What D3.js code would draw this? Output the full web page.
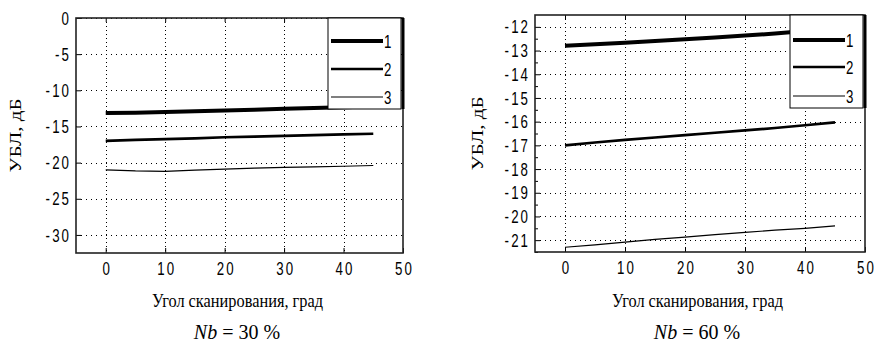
<!DOCTYPE html>
<html>
<head>
<meta charset="utf-8">
<script src="https://cdn.jsdelivr.net/npm/d3@7"></script>
<style>
  body { margin: 0; background: #fff; }
  svg { display: block; }
</style>
</head>
<body>
<div class="chart"></div>
<script>
// scan angle, deg
const angles = [0, 5, 10, 15, 20, 25, 30, 35, 40, 45];

// Nb = 30 %
const left1 = [-13.15, -13.1, -13.0, -12.9, -12.8, -12.7, -12.55, -12.45, -12.35, -12.25];
const left2 = [-17.0, -16.85, -16.75, -16.65, -16.5, -16.4, -16.3, -16.2, -16.1, -16.0];
const left3 = [-21.0, -21.15, -21.2, -21.05, -20.9, -20.75, -20.65, -20.6, -20.5, -20.4];

// Nb = 60 %
const right1 = [-12.8, -12.73, -12.67, -12.6, -12.52, -12.45, -12.37, -12.28, -12.18, -12.1];
const right2 = [-17.0, -16.88, -16.77, -16.67, -16.57, -16.47, -16.37, -16.27, -16.15, -16.03];
const right3 = [-21.3, -21.2, -21.08, -20.97, -20.87, -20.77, -20.67, -20.58, -20.5, -20.4];

const xTicks = [0, 10, 20, 30, 40, 50];
const leftYTicks = [0, -5, -10, -15, -20, -25, -30];
const rightYTicks = [-12, -13, -14, -15, -16, -17, -18, -19, -20, -21];
const legendLabels = ["1", "2", "3"];
const lineWidths = [4, 2.6, 1.2];

const svg = d3.select(".chart")
        .append("svg")
        .attr("width", 874)
        .attr("height", 347);

const tickFont = "'Liberation Sans', Arial, sans-serif";
const serif = "'Liberation Serif', 'DejaVu Serif', serif";
const squeeze = "scale(0.7,1)";

function drawPanel(p) {
    const x = d3.scaleLinear().domain([-5, 50]).range([p.left, p.right]);
    const y = d3.scaleLinear().domain(p.yDomain).range([p.top, p.bottom]);
    const g = svg.append("g");

    // dotted grid
    g.selectAll(".vgrid")
            .data(xTicks.filter(d => d < 50)).enter()
            .append("line")
            .attr("x1", d => Math.round(x(d)) + 0.5).attr("x2", d => Math.round(x(d)) + 0.5)
            .attr("y1", p.top).attr("y2", p.bottom)
            .attr("stroke", "#000").attr("stroke-width", 1)
            .attr("stroke-dasharray", "1,3");
    g.selectAll(".hgrid")
            .data(p.yTicks).enter()
            .append("line")
            .attr("x1", p.left).attr("x2", p.right)
            .attr("y1", d => Math.round(y(d)) + 0.5).attr("y2", d => Math.round(y(d)) + 0.5)
            .attr("stroke", "#000").attr("stroke-width", 1)
            .attr("stroke-dasharray", "1,4");

    // axes with inward ticks
    const xAxis = g.append("g")
            .attr("transform", `translate(0,${p.bottom})`)
            .call(d3.axisBottom(x).tickValues(xTicks).tickFormat(d => String(d))
                    .tickSizeInner(-5).tickSizeOuter(0).tickPadding(9));
    g.append("g")
            .attr("transform", `translate(0,${p.top})`)
            .call(d3.axisTop(x).tickValues(xTicks).tickSizeInner(-4).tickSizeOuter(0).tickFormat(""));
    const yAxis = g.append("g")
            .attr("transform", `translate(${p.left},0)`)
            .call(d3.axisLeft(y).tickValues(p.yTicks).tickFormat(d => String(d))
                    .tickSizeInner(-5).tickSizeOuter(0).tickPadding(10));
    if (p.minor) {
        g.append("g")
                .attr("transform", `translate(${p.left},0)`)
                .call(d3.axisLeft(y).tickValues(p.minor).tickSizeInner(-3).tickSizeOuter(0).tickFormat(""));
    }
    g.selectAll(".domain").remove();
    g.selectAll(".tick line").attr("stroke", "#000");
    [xAxis, yAxis].forEach(a => a.selectAll("text")
            .attr("font-family", tickFont)
            .attr("font-size", 19)
            .attr("letter-spacing", 3)
            .attr("transform", squeeze)
            .attr("fill", "#000"));
    // letter-spacing adds trailing space; nudge centred/right-aligned labels back
    xAxis.selectAll("text").attr("dx", 1.5);
    yAxis.selectAll("text").attr("dx", 3);

    // series
    const line = d3.line().x((d, i) => x(angles[i])).y(d => y(d));
    g.selectAll(".series")
            .data(p.series).enter()
            .append("path")
            .attr("d", d => line(d))
            .attr("fill", "none")
            .attr("stroke", "#000")
            .attr("stroke-width", (_, i) => lineWidths[i]);

    // frame
    g.append("rect")
            .attr("x", p.left).attr("y", p.top)
            .attr("width", p.right - p.left).attr("height", p.bottom - p.top)
            .attr("fill", "none").attr("stroke", "#222").attr("stroke-width", 1.6);

    // legend
    const lg = g.append("g");
    lg.append("rect")
            .attr("x", p.legendLeft).attr("y", p.top)
            .attr("width", p.right - 2 - p.legendLeft).attr("height", p.legendBottom - p.top)
            .attr("fill", "#fff").attr("stroke", "#000").attr("stroke-width", 1);
    lg.append("line")
            .attr("x1", p.right).attr("x2", p.right)
            .attr("y1", p.top).attr("y2", p.legendBottom)
            .attr("stroke", "#000").attr("stroke-width", 3);
    lg.selectAll(".item")
            .data(legendLabels).enter()
            .append("line")
            .attr("x1", p.legendLeft + 3).attr("x2", p.legendLeft + 55)
            .attr("y1", (_, i) => p.legendRows[i]).attr("y2", (_, i) => p.legendRows[i])
            .attr("stroke", "#000")
            .attr("stroke-width", (_, i) => lineWidths[i]);
    lg.selectAll(".itemText")
            .data(legendLabels).enter()
            .append("text")
            .attr("transform", (_, i) => `translate(${p.legendLeft + 56},${p.legendRows[i] + 7}) ${squeeze}`)
            .attr("font-family", tickFont)
            .attr("font-size", 19)
            .text(d => d);

    // labels
    g.append("text")
            .attr("transform", `translate(${p.yLabelX},${(p.top + p.bottom) / 2}) rotate(-90)`)
            .attr("x", -37)
            .attr("dy", "0.35em")
            .attr("font-family", serif)
            .attr("font-size", 17)
            .attr("textLength", 74)
            .attr("lengthAdjust", "spacingAndGlyphs")
            .text("УБЛ,  дБ");
    g.append("text")
            .attr("x", p.centerX - 85).attr("y", 307)
            .attr("font-family", serif)
            .attr("font-size", 18)
            .attr("textLength", 171)
            .attr("lengthAdjust", "spacingAndGlyphs")
            .text("Угол сканирования, град");
    const nb = g.append("text")
            .attr("x", p.centerX).attr("y", 339)
            .attr("text-anchor", "middle")
            .attr("font-family", serif)
            .attr("font-size", 20);
    nb.append("tspan").attr("font-style", "italic").text("Nb");
    nb.append("tspan").text(` = ${p.nb} %`);
}

drawPanel({
    left: 76, right: 403, top: 18, bottom: 253,
    yDomain: [0, -32.5], yTicks: leftYTicks,
    series: [left1, left2, left3],
    legendLeft: 328, legendBottom: 109, legendRows: [41, 69, 97],
    yLabelX: 15, centerX: 237, nb: 30
});

drawPanel({
    left: 535, right: 865, top: 15, bottom: 252,
    yDomain: [-11.5, -21.5], yTicks: rightYTicks,
    minor: [-12.5, -13.5, -14.5, -15.5, -16.5, -17.5, -18.5, -19.5, -20.5, -21.5],
    series: [right1, right2, right3],
    legendLeft: 790, legendBottom: 108, legendRows: [40, 67, 96],
    yLabelX: 477, centerX: 697, nb: 60
});
</script>
</body>
</html>
